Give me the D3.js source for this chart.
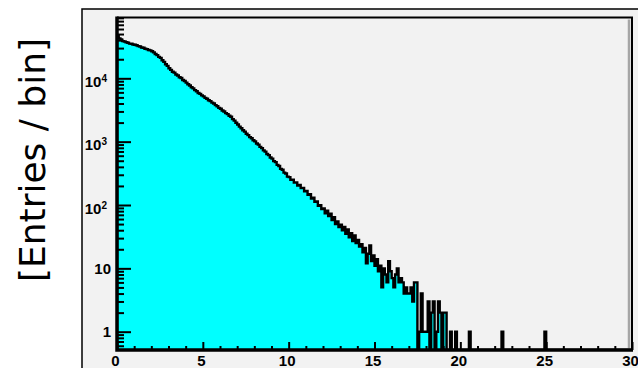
<!DOCTYPE html>
<html>
<head>
<meta charset="utf-8">
<script src="https://cdn.jsdelivr.net/npm/d3@7"></script>
<style>
  html, body { margin: 0; padding: 0; background: #ffffff; }
  svg { display: block; }
</style>
</head>
<body>
<svg id="chart" width="638" height="368"></svg>
<script>
// Histogram: 300 bins of width 0.1 covering [0, 30], one row per unit of x
const xRange = [0, 30];
const binWidth = 0.1;
const binCounts = [
  47900, 42600, 40900, 38700, 38200, 37000, 36500, 35300, 35200, 34200, // 0
  33800, 33300, 32200, 31700, 30700, 30300, 29300, 28900, 28000, 27600, // 1
  26800, 25700, 24200, 23200, 21800, 21000, 19300, 18200, 16700, 15700, // 2
  14400, 13600, 12700, 12300, 11500, 11100, 10400, 10100, 9400, 9050,   // 3
  8550, 8040, 7700, 7230, 6940, 6510, 6240, 5860, 5670, 5370,           // 4
  5190, 4910, 4750, 4500, 4370, 4130, 4000, 3770, 3630, 3420,           // 5
  3300, 3110, 2990, 2820, 2720, 2560, 2470, 2270, 2150, 1990,           // 6
  1870, 1730, 1630, 1510, 1440, 1330, 1270, 1180, 1130, 1050,           // 7
  1010, 935, 898, 828, 790, 728, 697, 640, 612, 563,                    // 8
  540, 493, 475, 430, 412, 372, 360, 325, 314, 281,                     // 9
  275, 249, 251, 226, 228, 203, 207, 185, 186, 164,                     // 10
  166, 145, 148, 126, 130, 112, 114, 97, 99, 86,                        // 11
  88, 74, 81, 67, 73, 58, 64, 50, 55, 45,                               // 12
  49, 40, 45, 35, 41, 31, 36, 27, 33, 25,                               // 13
  28, 22, 24, 18, 21, 12, 17, 23, 13, 16,                               // 14
  11, 14, 9, 11, 5, 10, 8, 6, 13, 9,                                    // 15
  7, 5, 8, 10, 6, 7, 6, 4, 5, 4,                                        // 16
  4, 5, 3, 6, 6, 0, 1, 4, 1, 1,                                         // 17
  1, 3, 0, 2, 3, 0, 1, 3, 2, 0,                                         // 18
  2, 2, 0, 0, 1, 0, 0, 1, 0, 0,                                         // 19
  0, 0, 0, 0, 0, 1, 0, 0, 0, 0,                                         // 20
  0, 0, 0, 0, 0, 0, 0, 0, 0, 0,                                         // 21
  0, 0, 0, 0, 1, 0, 0, 0, 0, 0,                                         // 22
  0, 0, 0, 0, 0, 0, 0, 0, 0, 0,                                         // 23
  0, 0, 0, 0, 0, 0, 0, 0, 0, 1,                                         // 24
  0, 0, 0, 0, 0, 0, 0, 0, 0, 0,                                         // 25
  0, 0, 0, 0, 0, 0, 0, 0, 0, 0,                                         // 26
  0, 0, 0, 0, 0, 0, 0, 0, 0, 0,                                         // 27
  0, 0, 0, 0, 0, 0, 0, 0, 0, 0,                                         // 28
  0, 0, 0, 0, 0, 0, 0, 0, 0, 0                                          // 29
];
const yRange = [0.514, 91200];

const xMajorTicks = [0, 5, 10, 15, 20, 25, 30];
const xTickLabels = ["0", "5", "10", "15", "20", "25", "30"];
const yMajorTicks = [1, 10, 100, 1000, 10000];
const yTickBase = ["1", "10", "10", "10", "10"];
const yTickExponent = ["", "", "2", "3", "4"];
const yTitle = "[Entries / bin]";

const svg = d3.select("#chart");

// pad and frame geometry
const pad = { x: 82, y: 9 };
const frame = { left: 117, right: 632, top: 17.5, bottom: 350 };

const x = d3.scaleLinear().domain(xRange).range([frame.left, frame.right]);
const y = d3.scaleLog().domain(yRange).range([frame.bottom, frame.top]);

// pad background
svg.append("rect")
  .attr("x", pad.x).attr("y", pad.y)
  .attr("width", 700).attr("height", 500)
  .attr("fill", "#f2f2f2")
  .attr("stroke", "#000").attr("stroke-width", 1.5);

svg.append("defs").append("clipPath").attr("id", "frameClip")
  .append("rect")
  .attr("x", frame.left).attr("y", frame.top)
  .attr("width", frame.right - frame.left)
  .attr("height", frame.bottom - frame.top);

// step points: each bin contributes its left and right edge at its count
const steps = [];
binCounts.forEach((c, i) => {
  const x0 = xRange[0] + i * binWidth;
  steps.push([x0, c], [x0 + binWidth, c]);
});
const yOf = v => (v > 0 ? y(v) : frame.bottom);

const plot = svg.append("g").attr("clip-path", "url(#frameClip)");

plot.append("path")
  .datum(steps)
  .attr("fill", "#00ffff")
  .attr("d", d3.area()
    .x(d => x(d[0]))
    .y0(frame.bottom)
    .y1(d => yOf(d[1])));

plot.append("path")
  .datum([[xRange[0], 0]].concat(steps, [[xRange[1], 0]]))
  .attr("fill", "none")
  .attr("stroke", "#000")
  .attr("stroke-width", 2.4)
  .attr("stroke-linejoin", "miter")
  .attr("d", d3.line()
    .x(d => x(d[0]))
    .y(d => yOf(d[1])));

// frame shading on the right side
svg.append("line")
  .attr("x1", frame.right - 3).attr("x2", frame.right - 3)
  .attr("y1", frame.top + 2).attr("y2", frame.bottom)
  .attr("stroke", "#a6a6a6").attr("stroke-width", 2.5);

// frame top and right
svg.append("path")
  .attr("d", `M${frame.left},${frame.top}H${frame.right}V${frame.bottom}`)
  .attr("fill", "none").attr("stroke", "#000").attr("stroke-width", 2);

const labelFont = "'Liberation Sans', Arial, Helvetica, sans-serif";

// x axis: minor ticks every unit, major every 5
const xMinor = d3.range(0, 31, 1).filter(v => v % 5 !== 0);
svg.append("g")
  .attr("transform", `translate(0,${frame.bottom})`)
  .call(d3.axisBottom(x).tickValues(xMinor).tickSizeInner(-4).tickSizeOuter(0).tickFormat(""))
  .call(g => g.select(".domain").remove())
  .call(g => g.selectAll("line").attr("stroke-width", 2));

svg.append("g")
  .attr("transform", `translate(0,${frame.bottom})`)
  .call(d3.axisBottom(x).tickValues(xMajorTicks).tickSizeInner(-8).tickSizeOuter(0)
    .tickPadding(5).tickFormat((d, i) => xTickLabels[i]))
  .call(g => g.select(".domain").remove())
  .call(g => g.selectAll("line").attr("stroke-width", 2))
  .call(g => g.selectAll("text")
    .attr("dx", -2)
    .attr("font-family", labelFont)
    .attr("font-weight", "bold")
    .attr("font-size", 15)
    .attr("fill", "#000"));

// y axis: minor ticks 2..9 in each decade, major at powers of ten
const yMinor = [];
for (let e = -1; e <= 4; e++) {
  for (let m = 2; m <= 9; m++) {
    const v = m * Math.pow(10, e);
    if (v >= yRange[0] && v <= yRange[1]) yMinor.push(v);
  }
}
svg.append("g")
  .attr("transform", `translate(${frame.left},0)`)
  .call(d3.axisLeft(y).tickValues(yMinor).tickSizeInner(-7).tickSizeOuter(0).tickFormat(""))
  .call(g => g.select(".domain").remove())
  .call(g => g.selectAll("line").attr("stroke-width", 2));

const yAxisG = svg.append("g")
  .attr("transform", `translate(${frame.left},0)`)
  .call(d3.axisLeft(y).tickValues(yMajorTicks).tickSizeInner(-14).tickSizeOuter(0)
    .tickPadding(6).tickFormat(""))
  .call(g => g.select(".domain").remove())
  .call(g => g.selectAll("line").attr("stroke-width", 2));

// tick labels with superscript exponents
yAxisG.selectAll(".tick").each(function(d, i) {
  const t = d3.select(this).append("text")
    .attr("x", yTickExponent[i] ? -10 : -6)
    .attr("dy", yTickExponent[i] ? "0.55em" : "0.35em")
    .attr("text-anchor", "end")
    .attr("font-family", labelFont)
    .attr("font-weight", "bold")
    .attr("font-size", 15)
    .attr("fill", "#000");
  t.append("tspan").text(yTickBase[i]);
  if (yTickExponent[i]) {
    t.append("tspan")
      .attr("font-size", 10)
      .attr("dy", "-0.5em")
      .text(yTickExponent[i]);
  }
});

// left and bottom axis lines
svg.append("path")
  .attr("d", `M${frame.left},${frame.top - 1}V${frame.bottom}H${frame.right + 1}`)
  .attr("fill", "none").attr("stroke", "#000").attr("stroke-width", 3.5);

// axis title
svg.append("text")
  .attr("transform", `translate(45,160) rotate(-90)`)
  .attr("text-anchor", "middle")
  .attr("font-family", "'DejaVu Sans', Verdana, sans-serif")
  .attr("font-size", 36)
  .attr("fill", "#000")
  .text(yTitle);
</script>
</body>
</html>
